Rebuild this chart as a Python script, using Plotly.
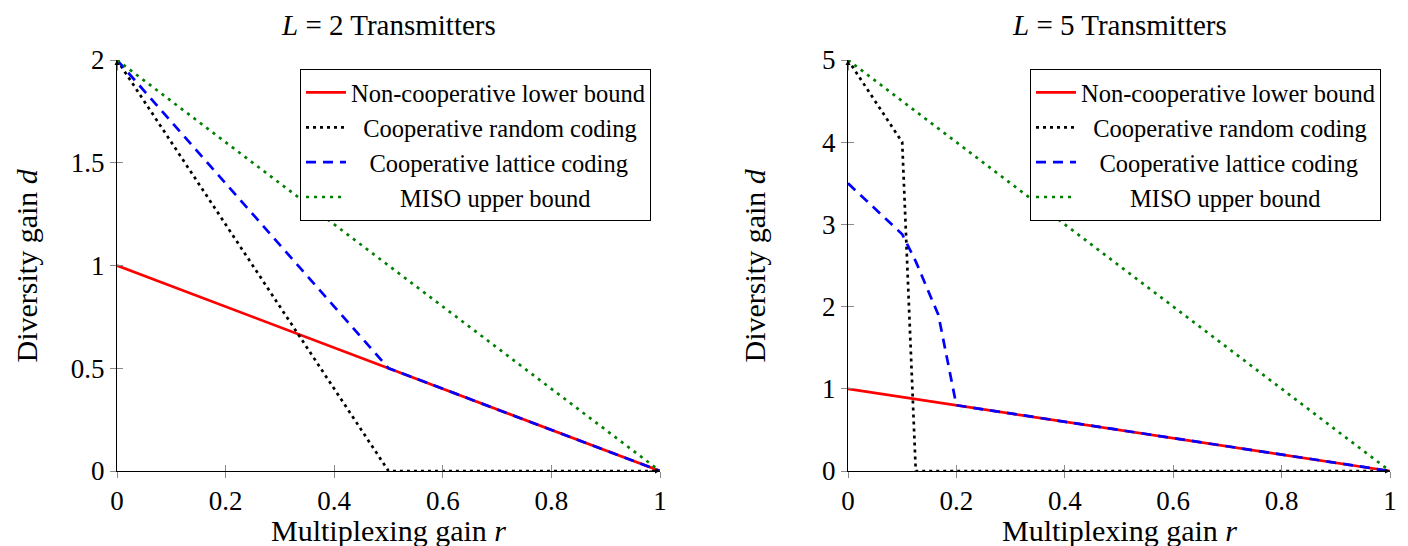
import plotly.graph_objects as go

# ---------------- data ----------------
names = ["Non-cooperative lower bound", "Cooperative random coding",
         "Cooperative lattice coding", "MISO upper bound"]

# L = 2
r_lower_2 = [0, 1]
d_lower_2 = [1, 0]
r_random_2 = [0, 0.5, 1]
d_random_2 = [2, 0, 0]
r_lattice_2 = [0, 0.5, 1]
d_lattice_2 = [2, 0.5, 0]
r_miso_2 = [0, 1]
d_miso_2 = [2, 0]

# L = 5
r_lower_5 = [0, 1]
d_lower_5 = [1, 0]
r_random_5 = [0, 0.1, 0.125, 1]
d_random_5 = [5, 4, 0, 0]
r_lattice_5 = [0, 0.1, 0.125, 0.15, 0.1667, 0.2, 1]
d_lattice_5 = [3.5, 2.88, 2.55, 2.15, 1.9, 0.8, 0]
r_miso_5 = [0, 1]
d_miso_5 = [5, 0]

xticks = [0, 0.2, 0.4, 0.6, 0.8, 1]
xticklabels = ["0", "0.2", "0.4", "0.6", "0.8", "1"]
yticks_2 = [0, 0.5, 1, 1.5, 2]
yticklabels_2 = ["0", "0.5", "1", "1.5", "2"]
yticks_5 = [0, 1, 2, 3, 4, 5]
yticklabels_5 = ["0", "1", "2", "3", "4", "5"]

titles = ["<i>L</i> = 2 Transmitters", "<i>L</i> = 5 Transmitters"]
xtitle = "Multiplexing gain <i>r</i>"
ytitle = "Diversity gain <i>d</i>"

# ---------------- style ----------------
FONT = "Liberation Serif"
OFF = 8                      # page body margin of the browser
W, H = 1408 - OFF, 546 - OFF


def px(X):                   # target-page x pixel -> paper fraction
    return (X - OFF) / W


def py(Y):                   # target-page y pixel -> paper fraction
    return 1 - (Y - OFF) / H


styles = [
    dict(color="rgb(255,0,0)", width=2.7, dash="solid"),
    dict(color="rgb(0,0,0)", width=2.7, dash="3px,4px"),
    dict(color="rgb(0,0,255)", width=2.7, dash="10px,7px"),
    dict(color="rgb(0,128,0)", width=2.7, dash="3px,5px"),
]
pad = ["", "&nbsp;" * 2, "&nbsp;" * 3, "&nbsp;" * 8]

fig = go.Figure()

panels = [
    dict(xa="x", ya="y", legend="legend",
         data=[(r_lower_2, d_lower_2), (r_random_2, d_random_2),
               (r_lattice_2, d_lattice_2), (r_miso_2, d_miso_2)]),
    dict(xa="x2", ya="y2", legend="legend2",
         data=[(r_lower_5, d_lower_5), (r_random_5, d_random_5),
               (r_lattice_5, d_lattice_5), (r_miso_5, d_miso_5)]),
]

for p in panels:
    for i, (xs, ys) in enumerate(p["data"]):
        fig.add_trace(go.Scatter(
            x=xs, y=ys, mode="lines", name=pad[i] + names[i],
            line=styles[i], xaxis=p["xa"], yaxis=p["ya"],
            legend=p["legend"], hoverinfo="skip"))

# dummy traces for overlay axes (inside half of the crossing ticks)
fig.add_trace(go.Scatter(x=[None], y=[None], xaxis="x3", yaxis="y3", showlegend=False))
fig.add_trace(go.Scatter(x=[None], y=[None], xaxis="x4", yaxis="y4", showlegend=False))

ydom = [py(471), py(60)]
xdom1 = [px(117), px(660)]
xdom2 = [px(848), px(1390)]

tickfont = dict(family=FONT, size=27, color="black")
TICKC = "#8a8a8a"


def xax(dom, anchor):
    return dict(domain=dom, anchor=anchor, range=[0, 1], tickvals=xticks,
                ticktext=xticklabels, showgrid=False, zeroline=False,
                showline=True, linecolor="black", linewidth=1,
                ticks="outside", ticklen=6, tickcolor=TICKC, tickwidth=1,
                tickfont=tickfont, automargin=False, fixedrange=True)


def yax(dom, anchor, ymax, tv, tt):
    return dict(domain=dom, anchor=anchor, range=[0, ymax], tickvals=tv,
                ticktext=tt, showgrid=False, zeroline=False,
                showline=True, linecolor="black", linewidth=1,
                ticks="outside", ticklen=6, tickcolor=TICKC, tickwidth=1,
                tickfont=tickfont, automargin=False, fixedrange=True)


def inner(over, anchor, rng, tv):
    return dict(overlaying=over, anchor=anchor, range=rng, tickvals=tv,
                showticklabels=False, ticks="inside", ticklen=6, tickcolor=TICKC,
                showgrid=False, zeroline=False, showline=False,
                automargin=False, fixedrange=True)


legend_common = dict(bgcolor="white", bordercolor="black", borderwidth=1,
                     font=dict(family=FONT, size=24.5, color="black"),
                     xanchor="right", yanchor="top", y=py(69),
                     itemwidth=40, tracegroupgap=0)

fig.update_layout(
    width=W, height=H, margin=dict(l=0, r=0, t=0, b=0, autoexpand=False),
    paper_bgcolor="white", plot_bgcolor="white",
    xaxis=xax(xdom1, "y"),
    yaxis=yax(ydom, "x", 2, yticks_2, yticklabels_2),
    xaxis2=xax(xdom2, "y2"),
    yaxis2=yax(ydom, "x2", 5, yticks_5, yticklabels_5),
    xaxis3=inner("x", "y3", [0, 1], xticks),
    yaxis3=inner("y", "x3", [0, 2], yticks_2),
    xaxis4=inner("x2", "y4", [0, 1], xticks),
    yaxis4=inner("y2", "x4", [0, 5], yticks_5),
    legend=dict(x=px(651), **legend_common),
    legend2=dict(x=px(1381), **legend_common),
    showlegend=True,
)

# titles and axis titles
for dom, t, ylx in [(xdom1, titles[0], 26), (xdom2, titles[1], 754)]:
    xc = (dom[0] + dom[1]) / 2
    fig.add_annotation(text=t, x=xc, y=py(25), xref="paper", yref="paper",
                       showarrow=False, font=dict(family=FONT, size=29, color="black"),
                       xanchor="center", yanchor="middle")
    fig.add_annotation(text=xtitle, x=xc, y=py(530), xref="paper", yref="paper",
                       showarrow=False, font=dict(family=FONT, size=30, color="black"),
                       xanchor="center", yanchor="middle")
    fig.add_annotation(text=ytitle, x=px(ylx), y=(ydom[0] + ydom[1]) / 2,
                       xref="paper", yref="paper", textangle=-90,
                       showarrow=False, font=dict(family=FONT, size=30, color="black"),
                       xanchor="center", yanchor="middle")

# axis-end arrowheads
for xa, ya, ymax in [("x", "y", 2), ("x2", "y2", 5)]:
    fig.add_annotation(x=0, y=ymax, xref=xa, yref=ya, ax=0, ay=12, text="",
                       showarrow=True, arrowhead=2, arrowsize=1, arrowwidth=1,
                       arrowcolor="black")
    fig.add_annotation(x=1, y=0, xref=xa, yref=ya, ax=-12, ay=0, text="",
                       showarrow=True, arrowhead=2, arrowsize=1, arrowwidth=1,
                       arrowcolor="black")

fig.write_html("out.html")
